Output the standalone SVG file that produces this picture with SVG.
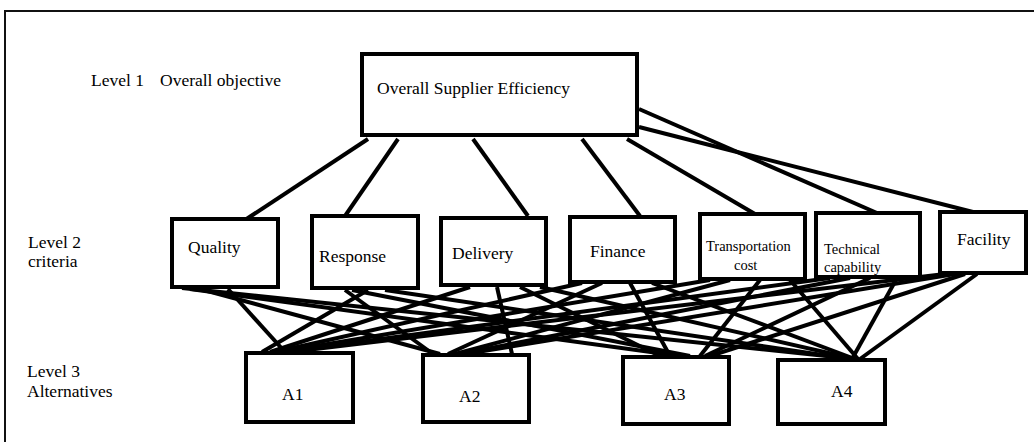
<svg xmlns="http://www.w3.org/2000/svg" width="1034" height="442" viewBox="0 0 1034 442">
<style>
.box{fill:#fff;stroke:#000;stroke-width:4}
.t{font-family:"Liberation Serif","Times New Roman",serif;font-size:17.5px;fill:#000}
.s{font-size:14.5px}
.c line{stroke:#000;stroke-width:4;stroke-linecap:butt}
</style>
<rect x="0" y="0" width="1034" height="442" fill="#fff"/>
<rect x="5" y="11" width="1040" height="440" fill="none" stroke="#111" stroke-width="2"/>
<g id="levels">
<text class="t" x="91" y="86">Level 1</text>
<text class="t" x="160" y="86">Overall objective</text>
<text class="t" x="28" y="248">Level 2</text>
<text class="t" x="28" y="267">criteria</text>
<text class="t" x="27" y="377">Level 3</text>
<text class="t" x="27" y="397">Alternatives</text>
</g>
<g class="c" id="connectors">
<line x1="368" y1="139" x2="245" y2="220"/>
<line x1="398" y1="139" x2="345" y2="216"/>
<line x1="473" y1="139" x2="528" y2="216"/>
<line x1="582" y1="139" x2="640" y2="216"/>
<line x1="627" y1="139" x2="755" y2="214"/>
<line x1="639" y1="109" x2="877" y2="213"/>
<line x1="639" y1="127" x2="973" y2="212"/>

<line x1="228" y1="289" x2="285" y2="352"/>
<line x1="200" y1="289" x2="440" y2="354"/>
<line x1="190" y1="289" x2="680" y2="356"/>
<line x1="182" y1="288" x2="855" y2="359"/>
<line x1="368" y1="290" x2="262" y2="352"/>
<line x1="345" y1="290" x2="433" y2="354"/>
<line x1="352" y1="290" x2="690" y2="356"/>
<line x1="385" y1="290" x2="850" y2="359"/>
<line x1="470" y1="287" x2="270" y2="352"/>
<line x1="497" y1="287" x2="512" y2="354"/>
<line x1="520" y1="287" x2="660" y2="356"/>
<line x1="540" y1="287" x2="855" y2="359"/>
<line x1="582" y1="283" x2="275" y2="352"/>
<line x1="602" y1="283" x2="448" y2="354"/>
<line x1="630" y1="283" x2="670" y2="356"/>
<line x1="652" y1="283" x2="855" y2="359"/>
<line x1="710" y1="280" x2="280" y2="352"/>
<line x1="730" y1="280" x2="455" y2="354"/>
<line x1="760" y1="280" x2="700" y2="356"/>
<line x1="790" y1="280" x2="858" y2="359"/>
<line x1="830" y1="278" x2="285" y2="352"/>
<line x1="850" y1="278" x2="460" y2="354"/>
<line x1="870" y1="278" x2="705" y2="356"/>
<line x1="897" y1="278" x2="852" y2="359"/>
<line x1="945" y1="274" x2="290" y2="352"/>
<line x1="955" y1="274" x2="465" y2="354"/>
<line x1="965" y1="274" x2="710" y2="356"/>
<line x1="977" y1="274" x2="860" y2="359"/>
</g>
<g id="goal">
<rect class="box" x="362" y="54" width="275" height="81"/>
<text class="t" x="377" y="94">Overall Supplier Efficiency</text>
</g>
<g id="quality">
<rect class="box" x="172" y="219" width="106" height="68"/>
<text class="t" x="188" y="253">Quality</text>
</g>
<g id="response">
<rect class="box" x="312" y="216" width="106" height="72"/>
<text class="t" x="319" y="262">Response</text>
</g>
<g id="delivery">
<rect class="box" x="441" y="218" width="105" height="67"/>
<text class="t" x="452" y="259">Delivery</text>
</g>
<g id="finance">
<rect class="box" x="570" y="217" width="105" height="65"/>
<text class="t" x="590" y="257">Finance</text>
</g>
<g id="transportation">
<rect class="box" x="700" y="214" width="105" height="65"/>
<text class="t s" x="706" y="251">Transportation</text>
<text class="t s" x="734" y="270">cost</text>
</g>
<g id="technical">
<rect class="box" x="816" y="213" width="104" height="64"/>
<text class="t s" x="824" y="254">Technical</text>
<text class="t s" x="824" y="272">capability</text>
</g>
<g id="facility">
<rect class="box" x="940" y="212" width="86" height="61"/>
<text class="t" x="957" y="245">Facility</text>
</g>
<g id="a1">
<rect class="box" x="246" y="353" width="107" height="69"/>
<text class="t" x="282" y="400">A1</text>
</g>
<g id="a2">
<rect class="box" x="423" y="355" width="106" height="67"/>
<text class="t" x="459" y="402">A2</text>
</g>
<g id="a3">
<rect class="box" x="623" y="357" width="106" height="67"/>
<text class="t" x="664" y="400">A3</text>
</g>
<g id="a4">
<rect class="box" x="778" y="360" width="107" height="64"/>
<text class="t" x="831" y="397">A4</text>
</g>
</svg>
